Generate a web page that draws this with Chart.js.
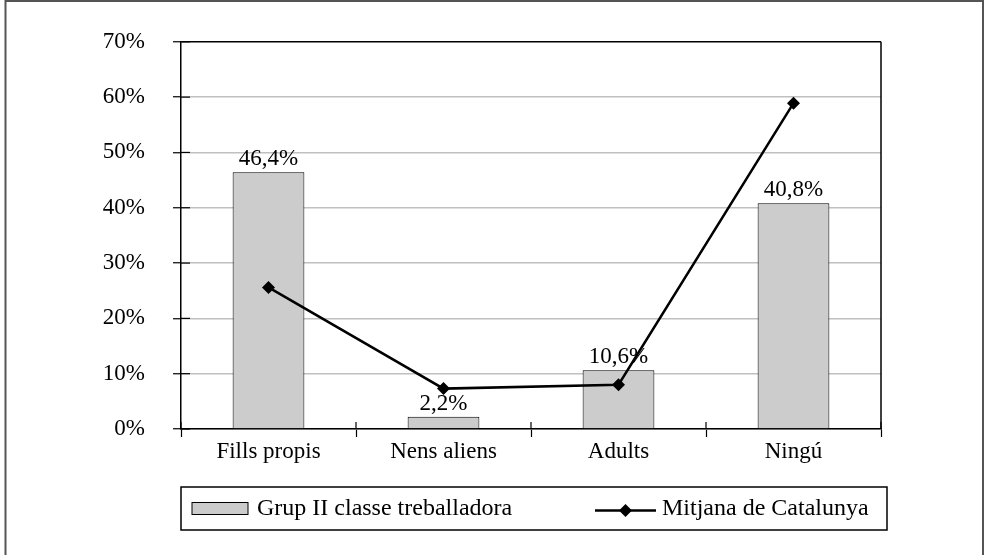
<!DOCTYPE html>
<html>
<head>
<meta charset="utf-8">
<script src="https://cdn.jsdelivr.net/npm/chart.js@4.4.1/dist/chart.umd.min.js"></script>
<style>
  html, body { margin: 0; padding: 0; background: #fff; }
  #wrap { position: relative; width: 984px; height: 555px; }
</style>
</head>
<body>
<div id="wrap"><canvas id="c"></canvas></div>
<script>
const categories = ['Fills propis', 'Nens aliens', 'Adults', 'Ningú'];
const grupValues = [46.4, 2.2, 10.6, 40.8];
const mitjanaValues = [25.6, 7.3, 8.0, 58.9];
const yTickValues = [0, 10, 20, 30, 40, 50, 60, 70];
const seriesNames = ['Grup II classe treballadora', 'Mitjana de Catalunya'];

const FONT = '"Liberation Serif", "Times New Roman", serif';
const FSIZE = 23;
const LSIZE = 24;

function fmt(v) { return v.toFixed(1).replace('.', ',') + '%'; }

const decorPlugin = {
  id: 'decor',
  afterDatasetsDraw(chart) {
    const ctx = chart.ctx;
    const ca = chart.chartArea;
    const ys = chart.scales.y;
    ctx.save();
    // right border of plot area
    ctx.strokeStyle = '#000';
    ctx.lineWidth = 1.5;
    ctx.beginPath();
    ctx.moveTo(ca.right, ca.top);
    ctx.lineTo(ca.right, ca.bottom);
    ctx.stroke();
    // inner half of cross ticks on y axis
    ctx.lineWidth = 1.2;
    ys.ticks.forEach((t, i) => {
      const y = ys.getPixelForTick(i);
      ctx.beginPath();
      ctx.moveTo(ca.left, y);
      ctx.lineTo(ca.left + 9, y);
      ctx.stroke();
    });
    // inner half of cross ticks on x axis (category boundaries)
    const step = (ca.right - ca.left) / categories.length;
    for (let i = 0; i <= categories.length; i++) {
      const x = ca.left + step * i;
      ctx.beginPath();
      ctx.moveTo(x, ca.bottom);
      ctx.lineTo(x, ca.bottom - 7);
      ctx.stroke();
    }
    // bar value labels
    const meta = chart.getDatasetMeta(0);
    ctx.fillStyle = '#000';
    ctx.font = FSIZE + 'px ' + FONT;
    ctx.textAlign = 'center';
    ctx.textBaseline = 'alphabetic';
    meta.data.forEach((bar, i) => {
      ctx.fillText(fmt(grupValues[i]), bar.x, bar.y - 7);
    });
    ctx.restore();
  },
  afterDraw(chart) {
    const ctx = chart.ctx;
    const ca = chart.chartArea;
    ctx.save();
    // outer frame
    ctx.strokeStyle = '#555';
    ctx.lineWidth = 2;
    ctx.beginPath();
    ctx.moveTo(5.5, 555);
    ctx.lineTo(5.5, 1);
    ctx.lineTo(983, 1);
    ctx.lineTo(983, 555);
    ctx.stroke();
    // legend box
    const lx = ca.left, lr = ca.right + 6, ly = 487, lb = 530;
    ctx.strokeStyle = '#000';
    ctx.lineWidth = 1.5;
    ctx.strokeRect(lx, ly, lr - lx, lb - ly);
    const midY = (ly + lb) / 2;
    // bar swatch
    ctx.fillStyle = '#cccccc';
    ctx.fillRect(lx + 11, midY - 6, 56, 12);
    ctx.lineWidth = 1;
    ctx.strokeStyle = '#000';
    ctx.strokeRect(lx + 11, midY - 6, 56, 12);
    ctx.fillStyle = '#000';
    ctx.font = LSIZE + 'px ' + FONT;
    ctx.textAlign = 'left';
    ctx.textBaseline = 'middle';
    ctx.fillText(seriesNames[0], lx + 76, midY);
    // line swatch
    const sx = 595;
    ctx.lineWidth = 2.5;
    ctx.beginPath();
    ctx.moveTo(sx, midY + 2);
    ctx.lineTo(sx + 61, midY + 2);
    ctx.stroke();
    ctx.beginPath();
    const dx = sx + 30.5, dy = midY + 2, r = 6.5;
    ctx.moveTo(dx - r, dy); ctx.lineTo(dx, dy - r); ctx.lineTo(dx + r, dy); ctx.lineTo(dx, dy + r);
    ctx.closePath();
    ctx.fill();
    ctx.fillText(seriesNames[1], sx + 67, midY);
    ctx.restore();
  }
};

new Chart(document.getElementById('c'), {
  data: {
    labels: categories,
    datasets: [
      {
        type: 'bar',
        label: seriesNames[0],
        data: grupValues,
        backgroundColor: '#cccccc',
        borderColor: '#000',
        borderWidth: 1,
        barPercentage: 0.41,
        categoryPercentage: 1,
        order: 2
      },
      {
        type: 'line',
        label: seriesNames[1],
        data: mitjanaValues,
        borderColor: '#000',
        backgroundColor: '#000',
        borderWidth: 2.5,
        pointStyle: 'rectRot',
        pointRadius: 6.5,
        pointBorderWidth: 0,
        pointBackgroundColor: '#000',
        tension: 0,
        order: 1
      }
    ]
  },
  options: {
    responsive: true,
    maintainAspectRatio: false,
    animation: false,
    layout: { padding: { left: 0, top: 40, right: 103, bottom: 0 } },
    plugins: { legend: { display: false }, tooltip: { enabled: false } },
    scales: {
      x: {
        offset: true,
        afterFit(scale) { scale.height = 126; },
        grid: {
          offset: true,
          drawOnChartArea: false,
          drawTicks: true,
          tickLength: 8,
          tickColor: '#000',
          tickWidth: 1.2
        },
        border: { display: true, color: '#000', width: 1.5 },
        ticks: {
          color: '#000',
          font: { family: FONT, size: FSIZE },
          padding: 1,
          maxRotation: 0
        }
      },
      y: {
        min: 0,
        max: 70,
        afterFit(scale) { scale.width = 181; },
        afterBuildTicks(scale) { scale.ticks = yTickValues.map(v => ({ value: v })); },
        grid: {
          color: (c) => (c.tick && c.tick.value === 70) ? '#000' : '#c0c0c0',
          lineWidth: 1.5,
          tickColor: '#000',
          tickLength: 8,
          tickWidth: 1.2
        },
        border: { display: true, color: '#000', width: 1.5 },
        ticks: {
          color: '#000',
          font: { family: FONT, size: FSIZE },
          padding: 28,
          callback: (v) => v + '%'
        }
      }
    }
  },
  plugins: [decorPlugin]
});
</script>
</body>
</html>
